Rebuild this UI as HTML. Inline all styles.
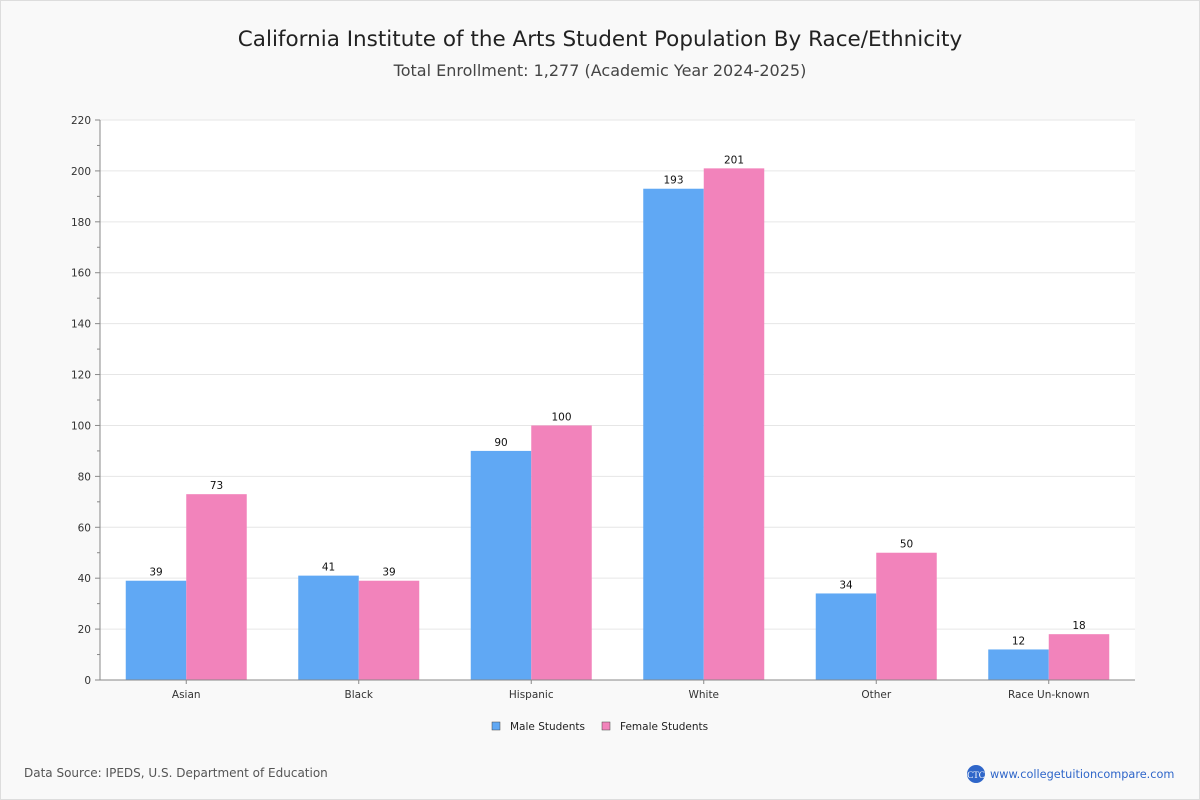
<!DOCTYPE html>
<html><head><meta charset="utf-8"><style>
body{margin:0;width:1200px;height:800px;overflow:hidden;background:#fff;font-family:"DejaVu Sans","Liberation Sans",sans-serif}
#wrap{position:absolute;left:0;top:0;width:1198px;height:798px;background:#f9f9f9;border:1px solid #ddd}
#chart{position:absolute;left:0;top:0}
</style></head><body>
<div id="wrap"></div>
<svg id="chart" width="1200" height="800">
<text x="600" y="46" text-anchor="middle" font-size="21.5" fill="#222">California Institute of the Arts Student Population By Race/Ethnicity</text>
<text x="600" y="76" text-anchor="middle" font-size="16" fill="#444">Total Enrollment: 1,277 (Academic Year 2024-2025)</text>
<rect x="100" y="120" width="1035" height="560" fill="#fff"/>
<g id="grid"></g><g id="bars"></g><g id="axes"></g>
<g>
<rect x="492" y="722" width="8" height="8" fill="#60a8f4" stroke="#444" stroke-width="0.5"/>
<text x="510" y="730" font-size="10.5" fill="#222">Male Students</text>
<rect x="602" y="722" width="8" height="8" fill="#f283bb" stroke="#444" stroke-width="0.5"/>
<text x="620" y="730" font-size="10.5" fill="#222">Female Students</text>
</g>
<text x="24" y="777" font-size="12" fill="#555">Data Source: IPEDS, U.S. Department of Education</text>
<circle cx="976" cy="774" r="9" fill="#2f66c9"/>
<text x="976" y="778" text-anchor="middle" font-size="9" fill="#fff" font-family="Liberation Serif,serif">CTC</text>
<text x="990" y="778" font-size="11.3" fill="#2f66c9">www.collegetuitioncompare.com</text>
</svg>
<script>
const categories=["Asian","Black","Hispanic","White","Other","Race Un-known"];
const maleValues=[39,41,90,193,34,12];
const femaleValues=[73,39,100,201,50,18];
const yTicks=[0,20,40,60,80,100,120,140,160,180,200,220];
const NS="http://www.w3.org/2000/svg";
const X0=100,X1=1135,Y0=680,Y1=120,YMAX=220;
const y=v=>Y0-(Y0-Y1)*v/YMAX;
const band=(X1-X0)/categories.length;
const bw=60.5;
function mk(t,a,p){const e=document.createElementNS(NS,t);for(const k in a)e.setAttribute(k,a[k]);p.appendChild(e);return e;}
const grid=document.getElementById('grid'),bars=document.getElementById('bars'),axes=document.getElementById('axes');
yTicks.forEach(v=>{
 const g=mk('line',{x1:X0,x2:X1,y1:y(v),y2:y(v),stroke:'#e6e6e6'},grid);
 
 
 mk('line',{x1:X0-5,x2:X0,y1:y(v),y2:y(v),stroke:'#888'},axes);
 const t=mk('text',{x:X0-9,y:y(v)+4,'text-anchor':'end','font-size':10.5,fill:'#333'},axes);t.textContent=v;
 
 
 if(v<YMAX)mk('line',{x1:X0-3,x2:X0,y1:y(v+10),y2:y(v+10),stroke:'#888'},axes);
});
mk('line',{x1:X0,x2:X0,y1:Y1,y2:Y0,stroke:'#888'},axes);
mk('line',{x1:X0,x2:X1,y1:Y0,y2:Y0,stroke:'#888'},axes);
categories.forEach((c,i)=>{
 const cx=X0+band*(i+0.5);
 [[maleValues[i],cx-bw,'#60a8f4','male'],[femaleValues[i],cx,'#f283bb','female']].forEach(([v,x,col,s])=>{
  const r=mk('rect',{x:x,y:y(v),width:bw,height:Y0-y(v),fill:col},bars);
  
  
  const t=mk('text',{x:x+bw/2,y:y(v)-5,'text-anchor':'middle','font-size':10.5,fill:'#111'},bars);t.textContent=v;
  
  
 });
 mk('line',{x1:cx,x2:cx,y1:Y0,y2:Y0+4,stroke:'#888'},axes);
 const t=mk('text',{x:cx,y:Y0+18,'text-anchor':'middle','font-size':10.5,fill:'#333'},axes);t.textContent=c;
 
 
});
</script>
</body></html>
